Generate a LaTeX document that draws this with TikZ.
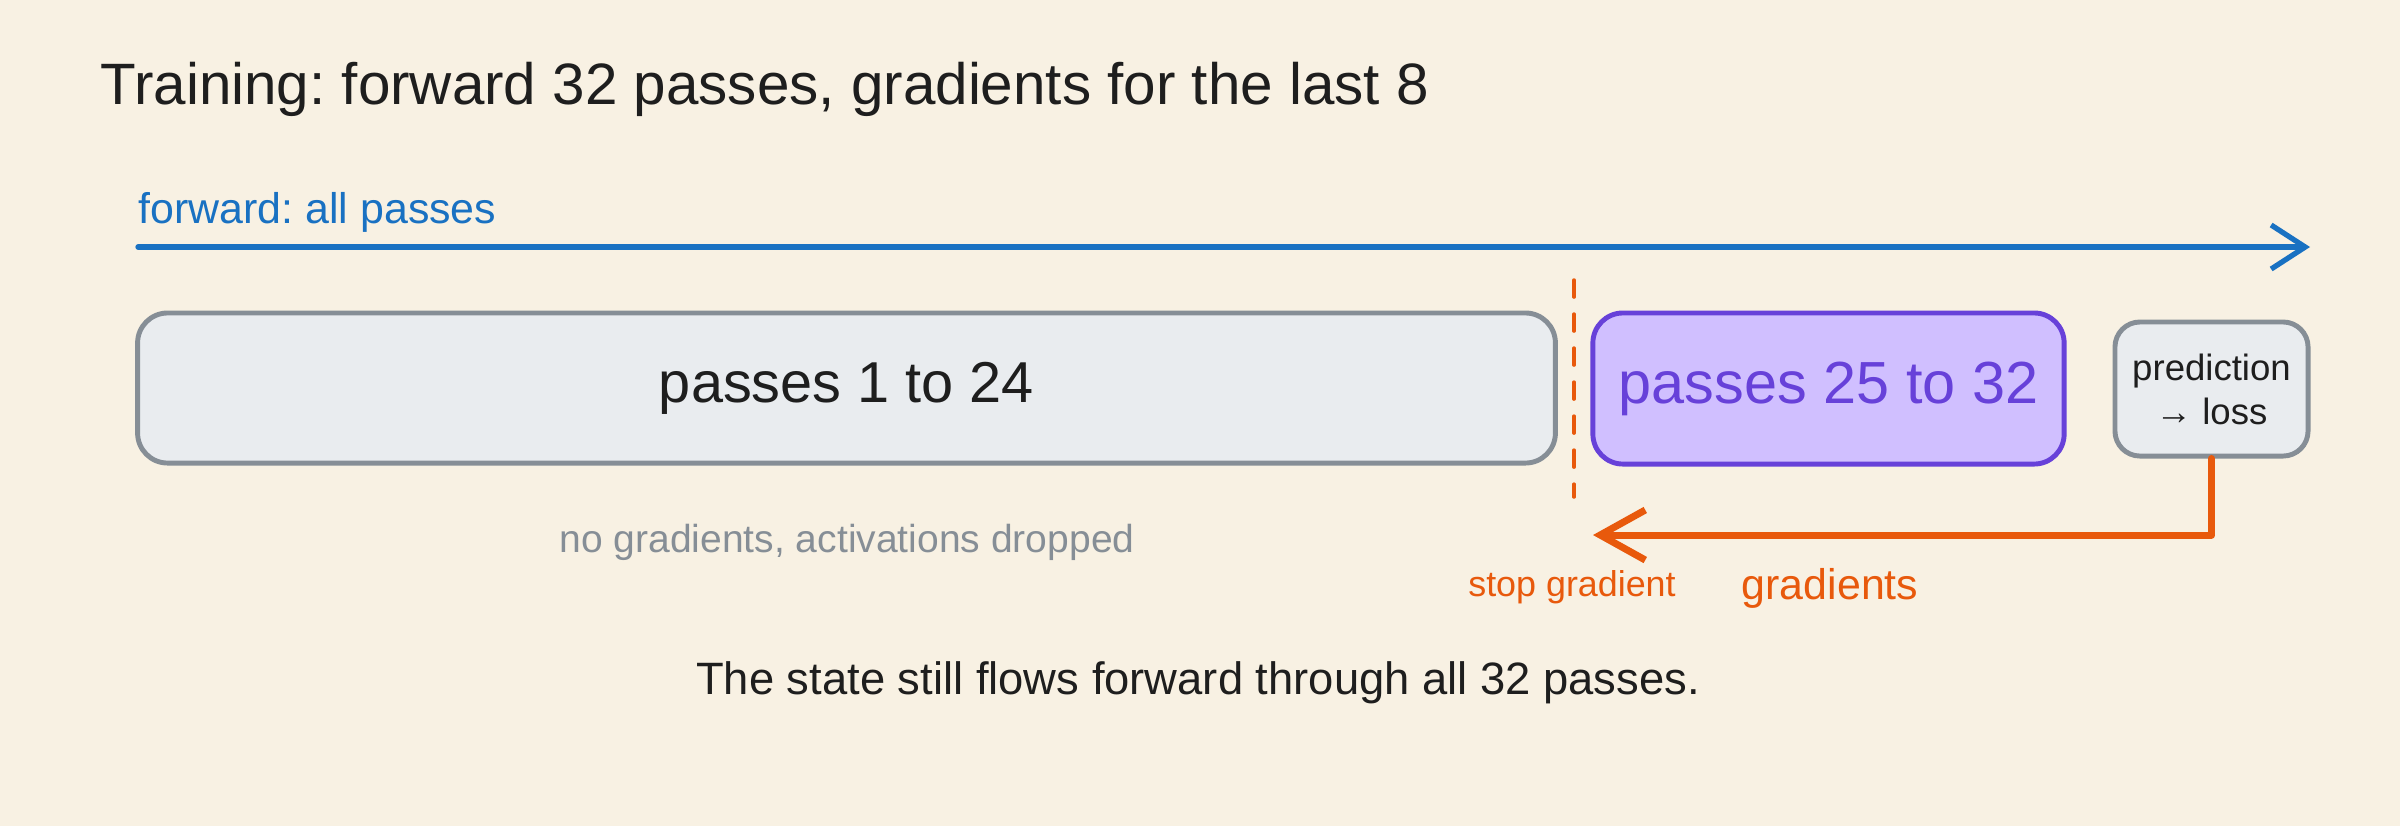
\documentclass[tikz,border=0pt]{standalone}
\usepackage{fontspec}
\setmainfont{Liberation Sans}
\usetikzlibrary{arrows.meta}
\frenchspacing
\definecolor{paper}{HTML}{F8F1E3}
\definecolor{ink}{HTML}{1E1E1E}
\definecolor{fwdblue}{HTML}{1971C2}
\definecolor{boxfill}{HTML}{E9ECEF}
\definecolor{boxline}{HTML}{868E96}
\definecolor{lastfill}{HTML}{D0BFFF}
\definecolor{lastline}{HTML}{6741D9}
\definecolor{gradorange}{HTML}{E8590C}
\begin{document}
\begin{tikzpicture}[x=0.01cm, y=-0.01cm, line join=round, line cap=round,
	>={Straight Barb[length=0.34cm,width=0.44cm]},
	txt/.style={inner sep=0pt, anchor=base, text=ink},
	box/.style={draw=boxline, fill=boxfill, line width=1.4pt, rounded corners=0.3cm, inner sep=0pt, text=ink},
	fwd/.style={draw=fwdblue, line width=1.5pt, ->},
	grad/.style={draw=gradorange, line width=2pt, -{Straight Barb[length=0.45cm,width=0.5cm]}},
	cut/.style={draw=gradorange, line width=1pt, dash pattern=on 0.17cm off 0.17cm}]
	\def\W{2400} \def\H{826} % Bildgroesse
	\fill[paper] (0,0) rectangle (\W,\H);
	\useasboundingbox (0,0) rectangle (\W,\H);
	% Titel
	\node[txt, anchor=base west, font=\fontsize{16.6}{20}\selectfont] (title) at (100,104) {Training: forward 32 passes, gradients for the last 8};
	% Vorwaerts
	\node[txt, anchor=base west, text=fwdblue, font=\fontsize{12.2}{15}\selectfont] (fwdtxt) at (138,223) {forward: all passes};
	\coordinate (fwdL) at (138,247);
	\coordinate (fwdR) at (2310,247);
	\draw[fwd] (fwdL) -- (fwdR);
	% Bloecke
	\node[box, minimum width=14.17cm, minimum height=1.5cm, font=\fontsize{16.4}{20}\selectfont] (early) at (846.5,388) {passes 1 to 24};
	\node[box, draw=lastline, fill=lastfill, text=lastline, minimum width=4.71cm, minimum height=1.51cm, font=\fontsize{16.9}{20}\selectfont] (late) at (1828.5,388.5) {passes 25 to 32};
	\node[box, rounded corners=0.25cm, minimum width=1.93cm, minimum height=1.34cm, align=center, font=\fontsize{10.4}{12.5}\selectfont] (pred) at (2211.5,389) {prediction\\→ loss};
	% Schnitt
	\coordinate (cutT) at (1574,280);
	\coordinate (cutB) at (1574,497);
	\draw[cut] (cutT) -- (cutB);
	% Rueckwaerts
	\coordinate (stop) at (1593,535);
	\draw[grad] (pred.south) |- (stop);
	% Beschriftungen
	\node[txt, text=boxline, font=\fontsize{11.1}{14}\selectfont] (nograd) at (847,552) {no gradients, activations dropped};
	\node[txt, text=gradorange, font=\fontsize{10.2}{13}\selectfont] (stoptxt) at (1572,596) {stop gradient};
	\node[txt, text=gradorange, font=\fontsize{12.2}{15}\selectfont] (gradtxt) at (1830,599) {gradients};
	\node[txt, font=\fontsize{12.9}{16}\selectfont] (note) at (1198,694) {The state still flows forward through all 32 passes.};
\end{tikzpicture}
\end{document}
